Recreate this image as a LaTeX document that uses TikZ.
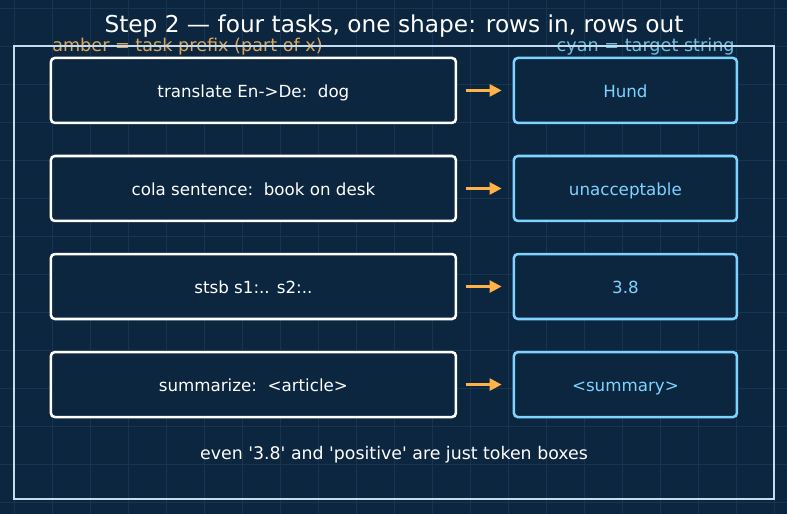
\documentclass[tikz,border=0pt]{standalone}
\usepackage{fontspec}
\setmainfont{DejaVu Sans}
\usetikzlibrary{arrows.meta}
\definecolor{bgblue}{HTML}{0C2640}
\definecolor{gridblue}{HTML}{173550}
\definecolor{framegray}{HTML}{C5DCEC}
\definecolor{amber}{HTML}{FFB347}
\definecolor{amberkey}{HTML}{DCA75C}
\definecolor{cyanbox}{HTML}{7FD3FF}
\definecolor{cyankey}{HTML}{72BDE0}
\tikzset{
  boxtext/.style={font=\fontsize{12.5}{14}\selectfont, text height=2ex, text depth=0.2ex},
  prefixbox/.style={boxtext, draw=white, line width=1.9pt, rounded corners=3pt, fill=bgblue,
    minimum width=10.66cm, minimum height=1.71cm, text=white},
  targetbox/.style={boxtext, draw=cyanbox, line width=1.9pt, rounded corners=3pt, fill=bgblue,
    minimum width=5.87cm, minimum height=1.71cm, text=cyanbox},
  maps/.style={draw=amber, line width=1.9pt, -{Triangle[length=9pt,width=9pt]},
    shorten <=0.22cm, shorten >=0.29cm},
}
\begin{document}
\begin{tikzpicture}[>=stealth]
\fill[bgblue] (-0.368,-0.316) rectangle (20.342,13.21);
\useasboundingbox (-0.368,-0.316) rectangle (20.342,13.21);
\draw[gridblue, line width=0.4pt] (-0.368,-0.316) grid (20.342,13.21);

\node (title) [white, font=\fontsize{17.4}{19}\selectfont] at (10,12.53) {Step 2 — four tasks, one shape: rows in, rows out};
\node (amberkey) [anchor=west, inner sep=0pt, text=amberkey, font=\fontsize{13.2}{15}\selectfont] at (1,11.97) {amber = task prefix (part of x)};
\node (cyankey) [anchor=east, inner sep=0pt, text=cyankey, font=\fontsize{13.2}{15}\selectfont] at (18.97,11.97) {cyan = target string};
\draw[framegray, line width=1.1pt] (0,0.08) rectangle (20,12);

\node (trans) [prefixbox] at (6.30,10.83) {translate En->De:\ \ dog};
\node (hund) [targetbox] at (16.09,10.83) {Hund};
\node (cola) [prefixbox] at (6.30,8.25) {cola sentence:\ \ book on desk};
\node (unacc) [targetbox] at (16.09,8.25) {unacceptable};
\node (stsb) [prefixbox] at (6.30,5.67) {stsb s1:.. s2:..};
\node (score) [targetbox] at (16.09,5.67) {3.8};
\node (summ) [prefixbox] at (6.30,3.09) {summarize:\ \ <article>};
\node (summary) [targetbox] at (16.09,3.09) {<summary>};

\draw [maps] (trans) -- (hund);
\draw [maps] (cola) -- (unacc);
\draw [maps] (stsb) -- (score);
\draw [maps] (summ) -- (summary);

\node (note) [white, font=\fontsize{13}{15}\selectfont] at (10,1.25) {even \textquotesingle3.8\textquotesingle{} and \textquotesingle positive\textquotesingle{} are just token boxes};
\end{tikzpicture}
\end{document}
